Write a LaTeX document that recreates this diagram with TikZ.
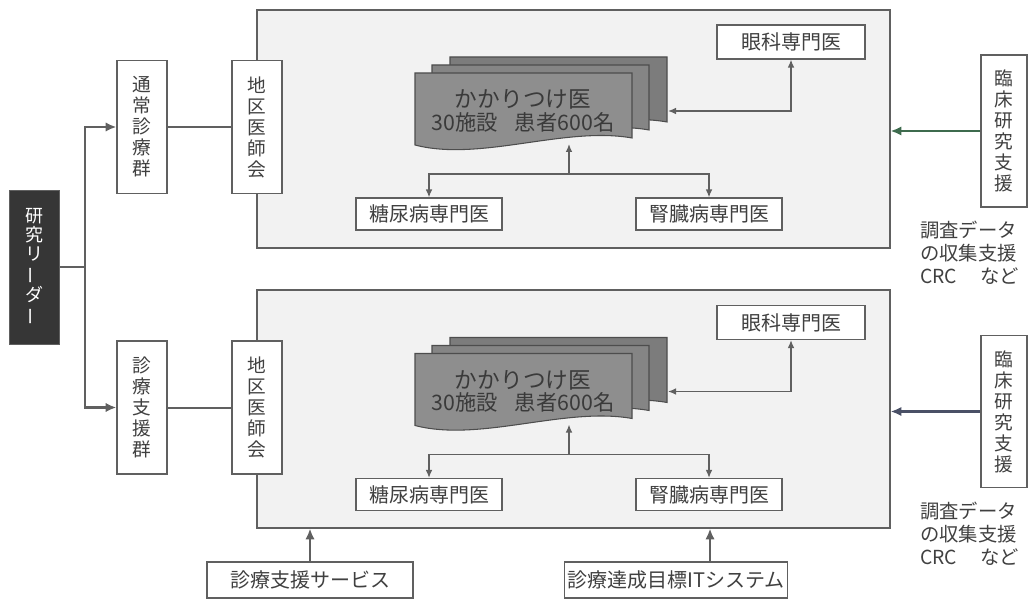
\documentclass[tikz,border=0pt]{standalone}
\usepackage{fontspec}
\setmainfont{Noto Sans CJK JP}
\usetikzlibrary{arrows.meta}
\definecolor{ink}{HTML}{404040}
\definecolor{edge}{HTML}{606060}
\definecolor{panelfill}{HTML}{F2F2F2}
\definecolor{stackA}{HTML}{7C7C7C}
\definecolor{stackB}{HTML}{858585}
\definecolor{stackC}{HTML}{8E8E8E}
\definecolor{greenarrow}{HTML}{3E6B4E}
\definecolor{bluearrow}{HTML}{4A5066}
\definecolor{leaderfill}{HTML}{363636}
\newcommand{\vbar}{\rotatebox[origin=c]{90}{ー}}
\begin{document}
\begin{tikzpicture}[x=0.75pt,y=-0.75pt,
  lbl/.style={draw=edge,line width=0.9pt,fill=white,text=ink,inner sep=0pt,
    font=\fontsize{15pt}{18pt}\selectfont},
  vlbl/.style={lbl,align=center,font=\fontsize{14pt}{15.75pt}\selectfont},
  panel/.style={draw=edge,line width=0.9pt,fill=panelfill,inner sep=0pt},
  conn/.style={draw=edge,line width=1pt,-{Latex[length=6pt,width=5pt]}},
  bconn/.style={draw=edge,line width=1pt,{Latex[length=6pt,width=5pt]}-{Latex[length=6pt,width=5pt]}},
  plain/.style={draw=edge,line width=1.5pt},
  thick arrow/.style={line width=1.8pt,-{Latex[length=8pt,width=7pt]}},
  doc/.style={draw=edge!80!black,line width=0.8pt},
  note/.style={text=ink,align=left,inner sep=0pt,font=\fontsize{14.5pt}{17.25pt}\selectfont}
]
\useasboundingbox (0,0) rectangle (1030,609);

% ---------- leader and groups ----------
\node[draw=edge,fill=leaderfill,text=white,inner sep=0pt,align=center,
  minimum width=37.5pt,minimum height=115.5pt,
  font=\fontsize{13.5pt}{14.25pt}\selectfont] (leader) at (34,267)
  {研\\究\\リ\\\vbar\\ダ\\\vbar};

\node[vlbl,minimum width=37.5pt,minimum height=99.75pt] (tsujo) at (142,127) {通\\常\\診\\療\\群};
\node[vlbl,minimum width=37.5pt,minimum height=99.75pt] (shien) at (142,407.5) {診\\療\\支\\援\\群};

\coordinate (tj) at (85,267);
\draw[draw=edge,line width=1.8pt] (leader.east) -- (tj);
\draw[draw=edge,thick arrow] (tj) |- (tsujo.west);
\draw[draw=edge,thick arrow] (tj) |- (shien.west);

% ---------- panels ----------
\node[panel,minimum width=474.75pt,minimum height=178.5pt] (panelA) at (573.5,129) {};
\node[panel,minimum width=474.75pt,minimum height=178.5pt] (panelB) at (573.5,409) {};

% ---------- one block per panel ----------
\foreach \dy/\p in {0/A,280.5/B}{
  \begin{scope}[yshift=-\dy*0.75pt]
    % document stack
    \foreach \ox/\oy/\col in {35/-16/stackA,17/-8/stackB,0/0/stackC}{
      \fill[\col] (415+\ox,73+\oy) -- (632+\ox,73+\oy) -- (632+\ox,138+\oy)
        .. controls (565+\ox,126+\oy) and (480+\ox,162+\oy) .. (415+\ox,145+\oy) -- cycle;
      \draw[doc] (415+\ox,73+\oy) -- (632+\ox,73+\oy) -- (632+\ox,138+\oy)
        .. controls (565+\ox,126+\oy) and (480+\ox,162+\oy) .. (415+\ox,145+\oy) -- cycle;
    }
    \node[text=ink!90!black,align=center,inner sep=0pt] (stack\p) at (523,111)
      {{\fontsize{17pt}{19pt}\selectfont かかりつけ医}\\[1pt]
       {\fontsize{16pt}{18pt}\selectfont 30施設\hspace{0.8em}患者600名}};
    \coordinate (stackR\p) at (668,111);
    \coordinate (stackBot\p) at (569,144);
    \coordinate (hub\p) at (569,174);

    \node[vlbl,minimum width=37.5pt,minimum height=99.75pt] (chiku\p) at (257,127) {地\\区\\医\\師\\会};
    \node[lbl,minimum width=111pt,minimum height=25.5pt] (ganka\p) at (791,42) {眼科専門医};
    \node[lbl,minimum width=109.5pt,minimum height=24pt] (tonyo\p) at (429,214) {糖尿病専門医};
    \node[lbl,minimum width=109.5pt,minimum height=24pt] (jinzo\p) at (709,214) {腎臓病専門医};
    \node[lbl,align=center,minimum width=34.5pt,minimum height=114pt,
      font=\fontsize{14pt}{15.75pt}\selectfont] (rinsho\p) at (1004,131) {臨\\床\\研\\究\\支\\援};
    \node[note,anchor=north west] (note\p) at (920,221) {調査データ\\の収集支援\\CRC\hspace{1.2em}など};
  \end{scope}
}

\foreach \p in {A,B}{
  \draw[bconn] (stackR\p) -| (ganka\p.south);
  \draw[conn] (hub\p) -- (stackBot\p);
  \draw[conn] (hub\p) -| (tonyo\p.north);
  \draw[conn] (hub\p) -| (jinzo\p.north);
}
\draw[plain] (tsujo.east) -- (chikuA.west);
\draw[plain] (shien.east) -- (chikuB.west);
\draw[draw=greenarrow,thick arrow] (rinshoA.west) -- (rinshoA.west -| panelA.east);
\draw[draw=bluearrow,thick arrow] (rinshoB.west) -- (rinshoB.west -| panelB.east);

% ---------- bottom services ----------
\node[lbl,minimum width=154.5pt,minimum height=27pt] (svc) at (310,580) {診療支援サービス};
\node[lbl,minimum width=167pt,minimum height=27pt] (itsys) at (676,580) {診療達成目標ITシステム};
\draw[draw=edge,thick arrow] (svc.north) -- (svc.north |- panelB.south);
\coordinate (itTop) at (710,562);
\draw[draw=edge,thick arrow] (itTop) -- (itTop |- panelB.south);
\end{tikzpicture}
\end{document}
